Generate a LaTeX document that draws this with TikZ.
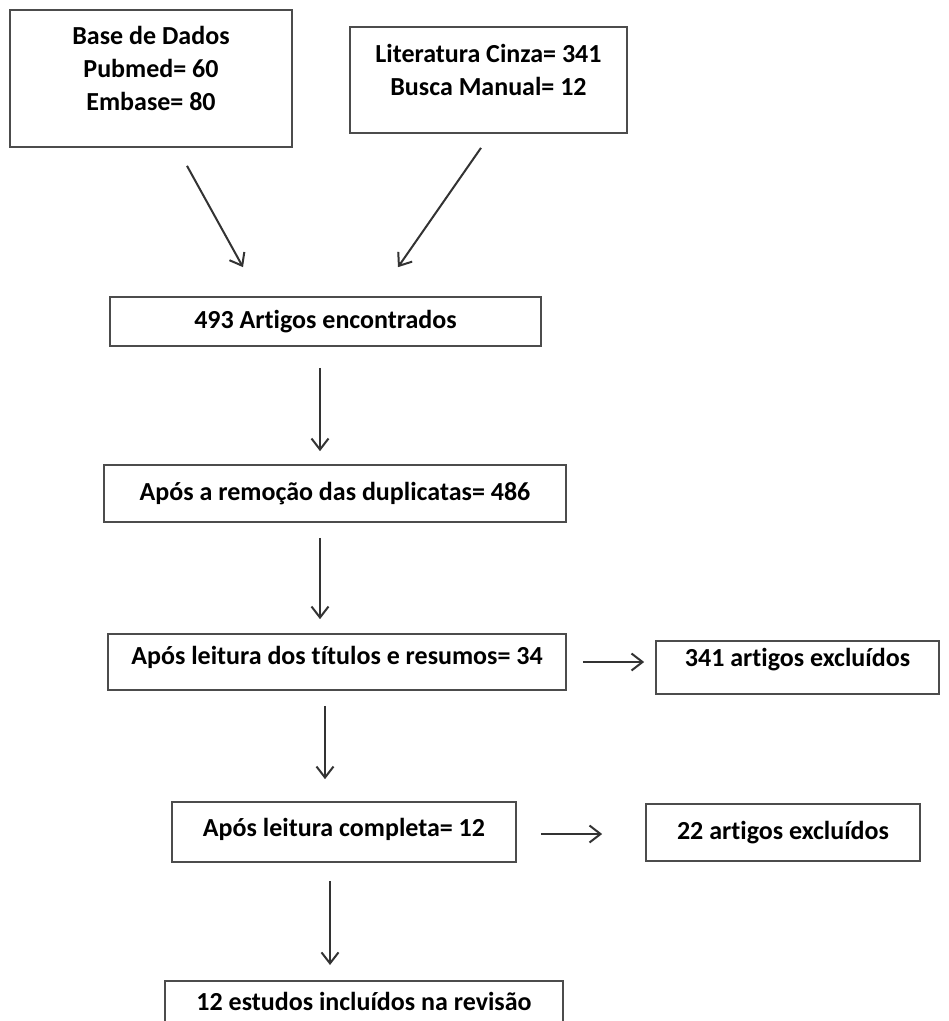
\documentclass[tikz,border=0pt]{standalone}
\usepackage{fontspec}
\setmainfont{Carlito}[Ligatures=NoCommon]
\usetikzlibrary{arrows.meta}
\newcommand{\lifted}[2]{\raisebox{#1}[\height][\depth]{\setlength{\tabcolsep}{0pt}\begin{tabular}{c}#2\end{tabular}}}

\begin{document}
\begin{tikzpicture}[x=1pt, y=-1pt, box/.style={draw=black!70, line width=1.7pt, inner sep=0pt, align=center, font=\bfseries\fontsize{26}{33}\selectfont}, arr/.style={-{Straight Barb[length=11pt, width=17pt]}, line width=2pt, black!80}]

\useasboundingbox (0,0) rectangle (949,1021);
\clip (0,0) rectangle (949,1021);

% source boxes
\node[box, minimum width=282, minimum height=137] (base) at (151,78.5) {\lifted{8pt}{Base de Dados\\Pubmed= 60\\Embase= 80}};
\node[box, minimum width=277, minimum height=106] (lit) at (488.5,80) {\lifted{8pt}{Literatura Cinza= 341\\Busca Manual= 12}};

% main flow
\node[box, minimum width=431, minimum height=49] (found) at (325.5,321.5) {493 Artigos encontrados};
\node[box, minimum width=462, minimum height=57] (dup) at (335,493.5) {Após a remoção das duplicatas= 486};
\node[box, minimum width=458, minimum height=56] (titles) at (337,662) {\lifted{4pt}{Após leitura dos títulos e resumos= 34}};
\node[box, minimum width=344, minimum height=60] (full) at (344,832) {\lifted{2pt}{Após leitura completa= 12}};
\node[box, minimum width=398, minimum height=50, anchor=north] (incl) at (364,980) {\lifted{2pt}{12 estudos incluídos na revisão}};

% exclusions
\node[box, minimum width=283, minimum height=53] (excl1) at (797.5,667.5) {\lifted{8pt}{341 artigos excluídos}};
\node[box, minimum width=274, minimum height=57] (excl2) at (783,832.5) {22 artigos excluídos};

\draw[arr] ([shift={(36,18)}]base.south) -- ([shift={(-82.5,-29)}]found.north);
\draw[arr] ([shift={(-7.5,14)}]lit.south) -- ([shift={(72.5,-29)}]found.north);
\draw[arr] ([shift={(-5.5,21)}]found.south) -- ([shift={(-15,-13)}]dup.north);
\draw[arr] ([shift={(-15,15)}]dup.south) -- ([shift={(-17,-14)}]titles.north);
\draw[arr] ([shift={(16,0)}]titles.east) -- ([shift={(-11,-5.5)}]excl1.west);
\draw[arr] ([shift={(-12,15)}]titles.south) -- ([shift={(-19,-22)}]full.north);
\draw[arr] ([shift={(24,2)}]full.east) -- ([shift={(-43,1.5)}]excl2.west);
\draw[arr] ([shift={(-14,18)}]full.south) -- ([shift={(-34,-15)}]incl.north);
\end{tikzpicture}
\end{document}
